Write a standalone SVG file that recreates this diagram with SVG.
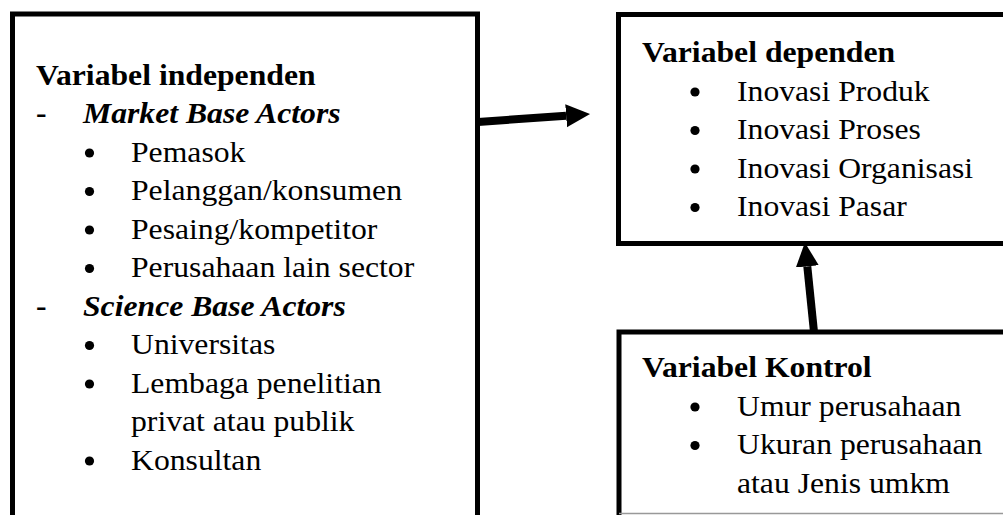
<svg xmlns="http://www.w3.org/2000/svg" width="1003" height="515" viewBox="0 0 1003 515">
<style>
.box{fill:#fff;stroke:#000;stroke-width:5}
.t{font-family:"Times New Roman","Liberation Serif",Times,Tinos,serif;font-size:29px;fill:#000}
.b{font-weight:bold}
.bi{font-weight:bold;font-style:italic}
.bul{fill:#000}
.conn{stroke:#000;stroke-width:8;fill:none}
</style>
<defs>
<marker id="ah" markerUnits="userSpaceOnUse" markerWidth="24" markerHeight="24" viewBox="0 0 24 24" refX="0" refY="12" orient="auto">
<path d="M0,0.5 L24,12 L0,23.5 Z" fill="#000"/>
</marker>
</defs>
<rect width="1003" height="515" fill="#fff"/>

<g id="independen">
<rect class="box" x="12.5" y="14" width="465" height="520"/>
<text class="t b" transform="translate(36,84.5) scale(1.093,1)">Variabel independen</text>
<text class="t b" transform="translate(36,123) scale(1.093,1)">-</text>
<text class="t bi" transform="translate(83,123) scale(1.093,1)">Market Base Actors</text>
<circle class="bul" cx="89.5" cy="153" r="4.6"/>
<text class="t" transform="translate(131,161.5) scale(1.093,1)">Pemasok</text>
<circle class="bul" cx="89.5" cy="191.5" r="4.6"/>
<text class="t" transform="translate(131,200) scale(1.093,1)">Pelanggan/konsumen</text>
<circle class="bul" cx="89.5" cy="230" r="4.6"/>
<text class="t" transform="translate(131,238.5) scale(1.093,1)">Pesaing/kompetitor</text>
<circle class="bul" cx="89.5" cy="268.5" r="4.6"/>
<text class="t" transform="translate(131,277) scale(1.093,1)">Perusahaan lain sector</text>
<text class="t b" transform="translate(36,315.5) scale(1.093,1)">-</text>
<text class="t bi" transform="translate(83,315.5) scale(1.093,1)">Science Base Actors</text>
<circle class="bul" cx="89.5" cy="345.5" r="4.6"/>
<text class="t" transform="translate(131,354) scale(1.093,1)">Universitas</text>
<circle class="bul" cx="89.5" cy="384" r="4.6"/>
<text class="t" transform="translate(131,392.5) scale(1.093,1)">Lembaga penelitian</text>
<text class="t" transform="translate(131,431) scale(1.093,1)">privat atau publik</text>
<circle class="bul" cx="89.5" cy="461" r="4.6"/>
<text class="t" transform="translate(131,469.5) scale(1.093,1)">Konsultan</text>
</g>

<g id="dependen">
<rect class="box" x="618.5" y="14.5" width="400" height="229"/>
<text class="t b" transform="translate(642,62) scale(1.093,1)">Variabel dependen</text>
<circle class="bul" cx="695" cy="92" r="4.6"/>
<text class="t" transform="translate(737,100.5) scale(1.093,1)">Inovasi Produk</text>
<circle class="bul" cx="695" cy="130.5" r="4.6"/>
<text class="t" transform="translate(737,139) scale(1.093,1)">Inovasi Proses</text>
<circle class="bul" cx="695" cy="169" r="4.6"/>
<text class="t" transform="translate(737,177.5) scale(1.093,1)">Inovasi Organisasi</text>
<circle class="bul" cx="695" cy="207.5" r="4.6"/>
<text class="t" transform="translate(737,216) scale(1.093,1)">Inovasi Pasar</text>
</g>

<g id="kontrol">
<rect class="box" x="619" y="332" width="400" height="200"/>
<line x1="619" y1="513.5" x2="1003" y2="513.5" stroke="#999" stroke-width="1.5"/>
<text class="t b" transform="translate(642,377) scale(1.093,1)">Variabel Kontrol</text>
<circle class="bul" cx="695" cy="407" r="4.6"/>
<text class="t" transform="translate(737,415.5) scale(1.093,1)">Umur perusahaan</text>
<circle class="bul" cx="695" cy="445.5" r="4.6"/>
<text class="t" transform="translate(737,454) scale(1.093,1)">Ukuran perusahaan</text>
<text class="t" transform="translate(737,492.5) scale(1.093,1)">atau Jenis umkm</text>
</g>

<g id="connectors">
<line class="conn" x1="478" y1="122" x2="566.1" y2="115.7" marker-end="url(#ah)"/>
<line class="conn" x1="814" y1="332" x2="807.3" y2="266.4" marker-end="url(#ah)"/>
</g>
</svg>
